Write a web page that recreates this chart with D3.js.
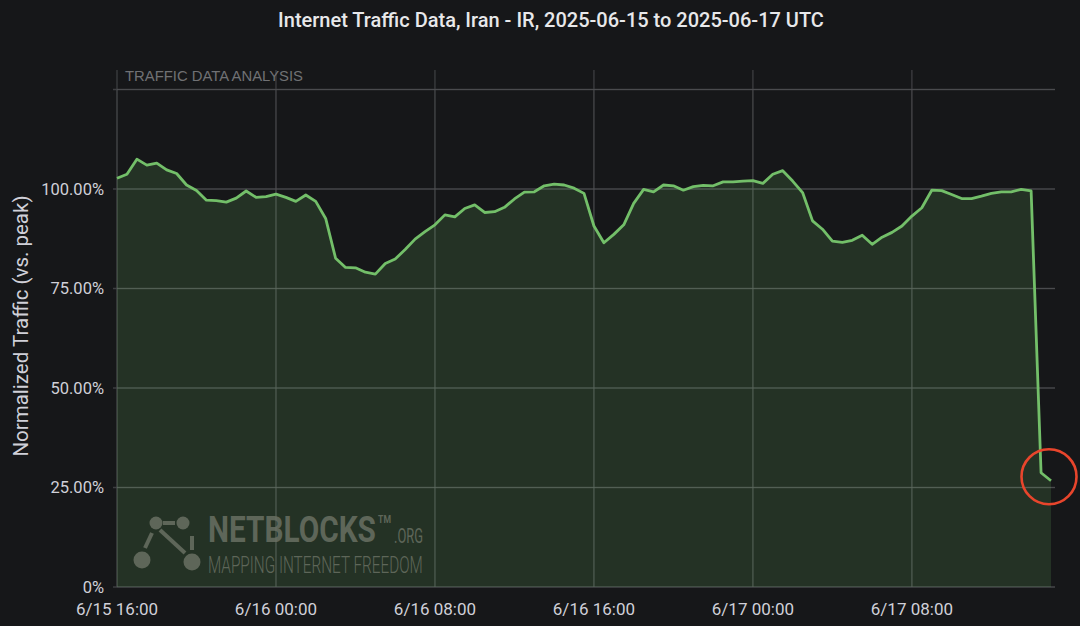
<!DOCTYPE html>
<html><head><meta charset="utf-8">
<script src="https://cdn.jsdelivr.net/npm/d3@7"></script>
<style>html,body{margin:0;background:#161719;} svg{display:block}</style>
</head><body><svg id="c" width="1080" height="626"></svg>
<script>
const chartTitle = "Internet Traffic Data, Iran - IR, 2025-06-15 to 2025-06-17 UTC";
const panelLabel = "TRAFFIC DATA ANALYSIS";
const yAxisTitle = "Normalized Traffic (vs. peak)";
const startTime = Date.UTC(2025, 5, 15, 16, 0);
const stepMinutes = 30;
// normalized traffic (% of peak), every 30 minutes from 6/15 16:00 UTC
const trafficValues = [
  102.7,103.7,107.5,106,106.5,104.8,103.9,101,99.6,97.2,
  97.1,96.7,97.7,99.5,97.9,98.1,98.7,97.9,96.9,98.5,
  96.9,92.6,82.6,80.3,80.2,79.1,78.6,81.3,82.4,84.8,
  87.4,89.3,91,93.5,93,95.1,96,94.1,94.3,95.4,
  97.5,99.2,99.3,100.8,101.2,101,100.2,98.9,90.7,86.5,
  88.6,91,96.4,99.9,99.3,101,100.8,99.7,100.6,100.9,
  100.8,101.8,101.8,102,102.1,101.4,103.7,104.6,102,99.1,
  92,89.9,86.9,86.6,87.1,88.4,86.1,87.9,89.1,90.7,
  93.2,95.3,99.7,99.6,98.6,97.6,97.6,98.2,98.9,99.3,
  99.3,99.9,99.5,28.7,26.7
];
const xTickTimes = [
  Date.UTC(2025,5,15,16), Date.UTC(2025,5,16,0), Date.UTC(2025,5,16,8),
  Date.UTC(2025,5,16,16), Date.UTC(2025,5,17,0), Date.UTC(2025,5,17,8)
];
const xTickLabels = ["6/15 16:00","6/16 00:00","6/16 08:00","6/16 16:00","6/17 00:00","6/17 08:00"];
const yTickValues = [0, 25, 50, 75, 100, 125];
const yTickLabels = ["0%", "25.00%", "50.00%", "75.00%", "100.00%", ""];

const data = trafficValues.map((v, i) => ({ t: new Date(startTime + i * stepMinutes * 60000), v }));

const svg = d3.select("#c");
const W = 1080, H = 626;
const m = { left: 117, right: 29, top: 89.5, bottom: 39 };
const x = d3.scaleUtc().domain([data[0].t, data[data.length - 1].t]).range([m.left, W - m.right]);
const y = d3.scaleLinear().domain([0, 125]).range([H - m.bottom, m.top]);

svg.append("rect").attr("width", W).attr("height", H).attr("fill", "#161719");

const gridColor = "#3d3e41";
svg.append("g").selectAll("line").data(yTickValues).join("line")
  .attr("x1", m.left - 4).attr("x2", W - m.right + 4)
  .attr("y1", d => y(d)).attr("y2", d => y(d))
  .attr("stroke", gridColor).attr("stroke-width", 1.3);
svg.append("g").selectAll("line").data(xTickTimes).join("line")
  .attr("x1", d => x(new Date(d))).attr("x2", d => x(new Date(d)))
  .attr("y1", 70).attr("y2", y(0))
  .attr("stroke", gridColor).attr("stroke-width", 1.3);

// area
const area = d3.area().x(d => x(d.t)).y0(y(0)).y1(d => y(d.v));
svg.append("path").datum(data).attr("d", area)
  .attr("fill", "#73bf69").attr("fill-opacity", 0.16);

// watermark
const wmColor = "#5e6659";
const wm = svg.append("g").attr("fill", wmColor).attr("stroke", wmColor);
const nodes = [[156, 523, 6.5], [183, 523, 6.5], [142, 560, 8.5], [192, 562, 8.5]];
wm.append("line").attr("x1", 163).attr("y1", 523).attr("x2", 175).attr("y2", 523).attr("stroke-width", 4);
wm.append("line").attr("x1", 160).attr("y1", 530).attr("x2", 185).attr("y2", 553).attr("stroke-width", 4);
wm.append("line").attr("x1", 192).attr("y1", 536).attr("x2", 192).attr("y2", 550).attr("stroke-width", 4);
wm.append("line").attr("x1", 152).attr("y1", 533).attr("x2", 145).attr("y2", 548).attr("stroke-width", 4);
wm.selectAll("circle").data(nodes).join("circle")
  .attr("cx", d => d[0]).attr("cy", d => d[1]).attr("r", d => d[2]).attr("stroke", "none");
function fitText(str, tx, ty, size, weight, width) {
  const t = wm.append("text").attr("font-family", "Roboto, sans-serif").attr("stroke", "none")
    .attr("font-size", size).attr("font-weight", weight).text(str);
  const w = t.node().getComputedTextLength();
  t.attr("transform", `translate(${tx},${ty}) scale(${width / w},1)`);
}
fitText("NETBLOCKS", 208, 542, 36.5, 700, 168);
fitText("TM", 378, 523, 10, 700, 13);
fitText(".ORG", 394, 543, 20, 400, 29);
fitText("MAPPING INTERNET FREEDOM", 208, 573, 24, 300, 215);

// subtle grid over area
svg.append("g").selectAll("line").data(yTickValues).join("line")
  .attr("x1", m.left).attr("x2", W - m.right + 4)
  .attr("y1", d => y(d)).attr("y2", d => y(d))
  .attr("stroke", "#ffffff").attr("stroke-opacity", 0.07);
svg.append("g").selectAll("line").data(xTickTimes).join("line")
  .attr("x1", d => x(new Date(d))).attr("x2", d => x(new Date(d)))
  .attr("y1", m.top).attr("y2", y(0))
  .attr("stroke", "#ffffff").attr("stroke-opacity", 0.07);

// line
const line = d3.line().x(d => x(d.t)).y(d => y(d.v));
svg.append("path").datum(data).attr("d", line)
  .attr("fill", "none").attr("stroke", "#73bf69").attr("stroke-width", 2.8)
  .attr("stroke-linejoin", "round");

// axis labels
const tickFont = "Roboto, 'Noto Sans', sans-serif";
svg.append("g").selectAll("text").data(yTickValues).join("text")
  .attr("x", 104).attr("y", d => y(d)).attr("dy", "0.36em")
  .attr("text-anchor", "end").attr("font-family", tickFont).attr("font-size", 16.5)
  .attr("fill", "#d0d0d8").text((d, i) => yTickLabels[i]);
svg.append("g").selectAll("text").data(xTickTimes).join("text")
  .attr("x", d => x(new Date(d))).attr("y", 609).attr("dy", "0.36em")
  .attr("text-anchor", "middle").attr("font-family", tickFont).attr("font-size", 17)
  .attr("fill", "#d0d0d8").text((d, i) => xTickLabels[i]);

svg.append("text").attr("transform", `translate(21,326) rotate(-90)`)
  .attr("text-anchor", "middle").attr("dy", "0.36em").attr("font-family", tickFont)
  .attr("font-size", 20.5).attr("fill", "#d0d0d8").text(yAxisTitle);

svg.append("text").attr("x", 125).attr("y", 81).attr("font-family", "'Liberation Sans', Arial, sans-serif")
  .attr("font-size", 15.5).attr("fill", "#707174").attr("textLength", 178).attr("lengthAdjust", "spacingAndGlyphs")
  .text(panelLabel);

svg.append("text").attr("x", 551).attr("y", 27).attr("text-anchor", "middle")
  .attr("font-family", tickFont).attr("font-weight", 500).attr("font-size", 20)
  .attr("fill", "#e8e8ea").text(chartTitle);

// highlight circle on final drop
const last = data[data.length - 1];
svg.append("circle").attr("cx", x(last.t) - 2).attr("cy", y(last.v) - 4).attr("r", 27.5)
  .attr("fill", "none").attr("stroke", "#e8452c").attr("stroke-width", 2.6);
</script></body></html>
